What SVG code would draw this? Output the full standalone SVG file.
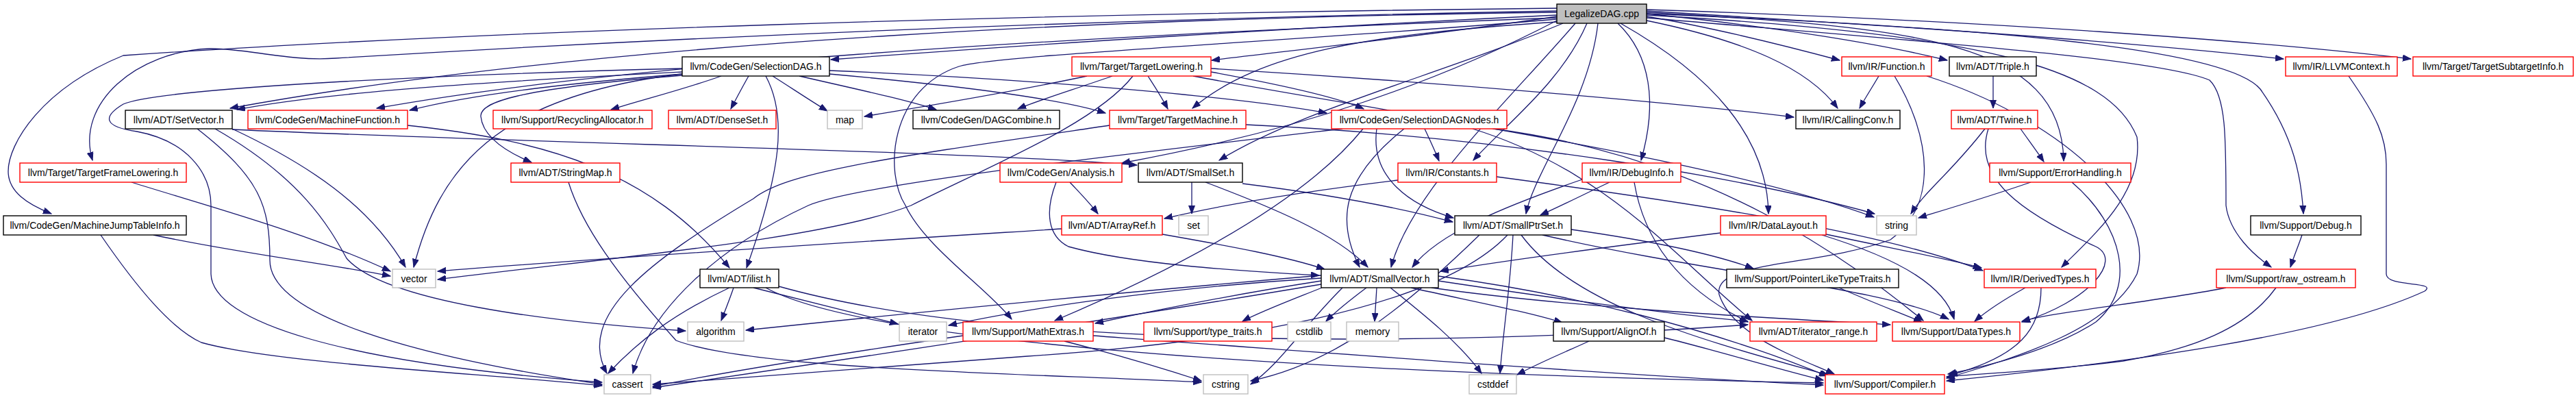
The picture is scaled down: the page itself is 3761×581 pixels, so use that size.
<svg xmlns="http://www.w3.org/2000/svg" width="3761" height="581" viewBox="0 0 3761 581">
<style>
rect{fill:#fff;stroke-width:1.4}
.k{stroke:#000}
.r{stroke:#ff0000}
.g{stroke:#bfbfbf}
.root{fill:#bfbfbf;stroke:#000}
text{font-family:"Liberation Sans",Arial,sans-serif;font-size:14px;text-anchor:middle;fill:#000}
#edges path{fill:none;stroke:#191970;stroke-width:1.3;marker-end:url(#a)}
</style>
<defs>
<marker id="a" markerUnits="userSpaceOnUse" markerWidth="13" markerHeight="10" refX="12" refY="4.5" orient="auto">
<path d="M0,0 L12,4.5 L0,9 z" fill="#191970" stroke="#191970"/>
</marker>
</defs>
<rect x="0" y="0" width="3761" height="581" style="fill:#fff;stroke:none"/>
<g id="edges">
<!-- LegalizeDAG.cpp -->
<path d="M2273,22 C1900,40 1500,65 1213,87"/>
<path d="M2273,18 C1700,25 900,55 336,158"/>
<path d="M2273,12 C1500,20 700,45 180,81 C60,130 12,210 12,250 C12,280 40,298 75,312"/>
<path d="M2273,16 C1500,30 900,60 490,85 C420,90 360,70 306,71 C200,75 110,150 135,234"/>
<path d="M2273,26 C1500,55 900,95 550,158"/>
<path d="M2333,34 C2320,150 2240,250 2228,312"/>
<path d="M2317,34 C2280,120 2200,180 2151,234"/>
<path d="M2362,34 C2410,80 2420,150 2396,234"/>
<path d="M2366,34 C2500,110 2580,200 2582,312"/>
<path d="M2282,34 C2100,110 1900,160 1780,234"/>
<path d="M2273,30 C2100,120 1900,190 1638,238"/>
<path d="M2300,34 C2200,150 2060,280 2031,390"/>
<path d="M2273,28 C1900,60 1450,80 1400,97 C1300,130 1290,250 1322,300 C1350,360 1440,420 1477,466"/>
<path d="M2273,24 C2100,50 1900,72 1769,88"/>
<path d="M2273,32 C2000,50 1840,75 1741,158"/>
<path d="M2404,24 C2500,40 2600,65 2686,88"/>
<path d="M2404,20 C2600,40 2750,65 2843,88"/>
<path d="M2404,30 C2550,60 2640,100 2683,158"/>
<path d="M2404,18 C2800,40 3010,60 3013,235"/>
<path d="M2404,16 C2800,40 3100,60 3334,86"/>
<path d="M2404,14 C2900,30 3300,60 3520,86"/>
<path d="M2404,20 C2900,40 3250,70 3300,130 C3350,200 3360,260 3363,312"/>
<path d="M2404,26 C2800,60 3150,85 3226,117 C3250,140 3250,200 3250,300 C3255,340 3290,372 3316,390"/>
<path d="M2404,22 C2900,50 3080,100 3120,200 C3130,280 3060,340 3010,390"/>
<!-- SelectionDAG.h -->
<path d="M996,105 C800,115 500,130 346,160"/>
<path d="M996,108 C850,120 700,135 598,161"/>
<path d="M996,100 C600,110 230,130 180,152 C150,170 150,185 200,192 C270,205 308,250 308,300 L308,400 C310,470 500,530 879,558"/>
<path d="M996,110 C750,130 700,150 702,170 C705,200 740,222 776,237"/>
<path d="M996,108 C720,140 640,250 604,390"/>
<path d="M1053,111 C1000,130 940,145 892,160"/>
<path d="M1093,111 C1085,125 1077,140 1067,159"/>
<path d="M1128,111 C1155,128 1180,145 1208,162"/>
<path d="M1118,111 C1150,170 1140,250 1090,391"/>
<path d="M1167,111 C1250,130 1320,145 1367,160"/>
<path d="M1211,103 C1500,115 1800,140 1937,165"/>
<path d="M1211,108 C1400,125 1550,145 1614,165"/>
<!-- TargetLowering.h -->
<path d="M1587,111 C1450,140 1320,160 1262,170"/>
<path d="M1624,111 C1570,130 1520,145 1486,159"/>
<path d="M1676,111 C1685,125 1695,140 1705,159"/>
<path d="M1654,111 C1600,180 1450,240 1330,300 C1200,350 900,375 639,408"/>
<path d="M1768,105 C1850,120 1950,140 1991,159"/>
<path d="M1768,100 C2100,120 2450,150 2619,171"/>
<path d="M1742,111 C2000,160 2500,230 2736,317"/>
<!-- SetVector.h -->
<path d="M288,188 C380,260 394,300 394,380 C394,460 600,520 879,561"/>
<path d="M314,188 C440,260 480,330 506,377 C560,440 800,470 1001,483"/>
<path d="M339,188 C450,240 540,300 592,390"/>
<path d="M339,189 C800,210 1400,220 1660,241"/>
<!-- MachineFunction.h -->
<path d="M595,183 C800,205 950,250 1065,391"/>
<!-- TargetFrameLowering / MJTI -->
<path d="M192,266 C300,300 450,340 570,396"/>
<path d="M224,343 C350,370 480,385 570,403"/>
<path d="M147,343 C200,420 250,480 294,500 C400,530 700,545 879,563"/>
<!-- StringMap.h -->
<path d="M830,266 C850,330 900,400 987,497 C1100,540 1500,545 1754,558"/>
<!-- ilist.h -->
<path d="M1065,420 C980,460 930,500 888,545"/>
<path d="M1071,420 C1066,435 1060,450 1053,468"/>
<path d="M1100,420 C1180,440 1260,460 1311,473"/>
<path d="M1137,418 C1500,520 2200,500 2552,474"/>
<path d="M1118,420 C1300,520 2200,550 2662,559"/>
<!-- Analysis.h -->
<path d="M1562,266 C1575,280 1590,295 1603,312"/>
<path d="M1542,266 C1525,310 1530,345 1560,360 C1650,385 1800,395 1926,402"/>
<!-- SmallSet.h -->
<path d="M1740,266 L1740,312"/>
<path d="M1760,266 C1850,300 1950,340 1997,390"/>
<path d="M1814,268 C1950,285 2050,305 2121,324"/>
<!-- ArrayRef.h -->
<path d="M1697,342 C1800,360 1880,375 1934,393"/>
<path d="M1550,334 C1300,350 900,375 639,396"/>
<!-- Constants.h -->
<path d="M2041,263 C1900,280 1780,300 1700,319"/>
<path d="M2185,258 C2500,300 2750,340 2895,395"/>
<!-- DebugInfo.h -->
<path d="M2350,266 C2310,285 2280,300 2249,314"/>
<path d="M2386,266 C2400,350 2450,420 2552,470"/>
<path d="M2310,262 C2200,300 2100,340 2062,390"/>
<!-- SelectionDAGNodes.h -->
<path d="M2080,188 C2088,205 2095,220 2101,235"/>
<path d="M2050,188 C1960,260 1950,320 1985,390"/>
<path d="M2010,188 C2000,260 2060,300 2122,318"/>
<path d="M2150,188 C2350,250 2450,380 2558,468"/>
<path d="M2180,188 C2500,230 2700,380 2808,468"/>
<path d="M1990,188 C1900,300 1700,400 1540,468"/>
<path d="M1960,188 C1600,230 1250,270 1180,300 C1050,360 950,450 924,545"/>
<!-- SmallPtrSet.h -->
<path d="M2209,343 C2205,420 2195,480 2190,545"/>
<path d="M2294,335 C2400,350 2500,370 2560,392"/>
<path d="M2252,343 C2500,400 2750,420 2845,466"/>
<path d="M2221,343 C2300,450 2500,500 2670,548"/>
<path d="M2201,343 C2100,450 1800,500 1500,520 C1300,535 1100,550 953,561"/>
<path d="M2160,343 C2050,450 1950,530 1826,556"/>
<!-- SmallVector.h -->
<path d="M1995,420 C1975,435 1955,450 1936,469"/>
<path d="M2010,420 L2007,469"/>
<path d="M2030,420 C2080,460 2130,500 2163,545"/>
<path d="M2060,420 C2150,440 2230,455 2281,471"/>
<path d="M1930,420 C1880,440 1840,455 1814,469"/>
<path d="M1929,410 C1800,430 1700,450 1599,472"/>
<path d="M1929,406 C1700,420 1500,450 1385,475"/>
<path d="M1929,402 C1600,430 1300,460 1089,482"/>
<path d="M1929,415 C1600,470 1200,530 953,566"/>
<path d="M2100,403 C2300,430 2500,480 2668,549"/>
<path d="M2100,410 C2300,440 2450,460 2552,469"/>
<path d="M2090,420 C2300,450 2600,465 2760,474"/>
<path d="M1960,420 C1900,480 1870,530 1826,561"/>
<!-- AlignOf / MathExtras -->
<path d="M2320,498 C2290,512 2250,528 2215,547"/>
<path d="M2430,493 C2500,510 2600,540 2662,555"/>
<path d="M1406,490 C1200,520 1050,545 953,564"/>
<path d="M1554,498 C1620,515 1690,535 1754,556"/>
<path d="M1596,490 C2000,520 2400,550 2662,562"/>
<!-- PointerLikeTypeTraits / DataLayout / DerivedTypes -->
<path d="M2685,420 C2730,440 2770,455 2806,470"/>
<path d="M2512,340 C2350,360 2200,380 2103,396"/>
<path d="M2666,342 C2750,360 2830,375 2893,391"/>
<path d="M2660,343 C2780,380 2840,420 2853,466"/>
<path d="M2957,420 C2930,435 2905,450 2883,469"/>
<path d="M2980,420 C2980,480 2950,520 2846,548"/>
<!-- Twine / Triple / ErrorHandling / Function -->
<path d="M2910,111 L2910,158"/>
<path d="M2950,188 C2962,205 2972,218 2984,236"/>
<path d="M2898,188 C2850,250 2810,280 2790,312"/>
<path d="M2903,188 C2880,260 2950,310 3060,360 C3100,380 3050,440 2952,470"/>
<path d="M2965,266 C2910,285 2860,300 2801,318"/>
<path d="M3025,266 C3100,330 3120,420 3060,470 C3000,510 2900,535 2844,546"/>
<path d="M2743,111 C2735,125 2725,140 2715,158"/>
<path d="M2766,111 C2820,200 2830,300 2760,350 C2650,390 2500,380 2510,430 C2530,490 2620,520 2678,546"/>
<path d="M2813,111 C3000,170 3150,300 3120,400 C3080,480 2950,520 2842,552"/>
<!-- LLVMContext / raw_ostream / Debug -->
<path d="M3429,111 C3470,170 3484,200 3484,240 L3484,400 C3484,420 3560,410 3540,425 C3400,490 3100,530 2842,556"/>
<path d="M3323,420 C3280,480 3200,510 3100,527 C3000,540 2900,545 2842,550"/>
<path d="M3250,420 C3150,440 3000,455 2952,469"/>
<path d="M3361,343 C3356,358 3350,372 3344,390"/>
<!-- TargetMachine.h -->
<path d="M1620,183 C1300,230 1150,250 1100,290 C950,380 840,460 886,545"/>
<path d="M1819,182 C2200,200 2550,260 2737,312"/>
</g>
<g id="n0"><rect class="root" x="2273" y="6" width="131" height="28"/><text x="2338.5" y="25">LegalizeDAG.cpp</text></g>
<g id="n1"><rect class="k" x="996" y="83" width="215" height="28"/><text x="1103.5" y="102">llvm/CodeGen/SelectionDAG.h</text></g>
<g id="n2"><rect class="r" x="1565" y="83" width="203" height="28"/><text x="1666.5" y="102">llvm/Target/TargetLowering.h</text></g>
<g id="n3"><rect class="r" x="2689" y="83" width="131" height="28"/><text x="2754.5" y="102">llvm/IR/Function.h</text></g>
<g id="n4"><rect class="k" x="2846" y="83" width="127" height="28"/><text x="2909.5" y="102">llvm/ADT/Triple.h</text></g>
<g id="n5"><rect class="r" x="3337" y="83" width="163" height="28"/><text x="3418.5" y="102">llvm/IR/LLVMContext.h</text></g>
<g id="n6"><rect class="r" x="3523" y="83" width="234" height="28"/><text x="3640" y="102">llvm/Target/TargetSubtargetInfo.h</text></g>
<g id="n7"><rect class="k" x="183" y="161" width="156" height="27"/><text x="261" y="179.5">llvm/ADT/SetVector.h</text></g>
<g id="n8"><rect class="r" x="362" y="161" width="233" height="27"/><text x="478.5" y="179.5">llvm/CodeGen/MachineFunction.h</text></g>
<g id="n9"><rect class="r" x="720" y="161" width="232" height="27"/><text x="836" y="179.5">llvm/Support/RecyclingAllocator.h</text></g>
<g id="n10"><rect class="r" x="976" y="161" width="157" height="27"/><text x="1054.5" y="179.5">llvm/ADT/DenseSet.h</text></g>
<g id="n11"><rect class="g" x="1208" y="161" width="51" height="27"/><text x="1233.5" y="179.5">map</text></g>
<g id="n12"><rect class="k" x="1333" y="161" width="214" height="27"/><text x="1440" y="179.5">llvm/CodeGen/DAGCombine.h</text></g>
<g id="n13"><rect class="r" x="1620" y="161" width="199" height="27"/><text x="1719.5" y="179.5">llvm/Target/TargetMachine.h</text></g>
<g id="n14"><rect class="r" x="1944" y="161" width="256" height="27"/><text x="2072" y="179.5">llvm/CodeGen/SelectionDAGNodes.h</text></g>
<g id="n15"><rect class="k" x="2622" y="161" width="152" height="27"/><text x="2698" y="179.5">llvm/IR/CallingConv.h</text></g>
<g id="n16"><rect class="r" x="2849" y="161" width="126" height="27"/><text x="2912" y="179.5">llvm/ADT/Twine.h</text></g>
<g id="n17"><rect class="r" x="29" y="238" width="243" height="28"/><text x="150.5" y="257">llvm/Target/TargetFrameLowering.h</text></g>
<g id="n18"><rect class="r" x="746" y="238" width="159" height="28"/><text x="825.5" y="257">llvm/ADT/StringMap.h</text></g>
<g id="n19"><rect class="r" x="1460" y="238" width="178" height="28"/><text x="1549" y="257">llvm/CodeGen/Analysis.h</text></g>
<g id="n20"><rect class="k" x="1662" y="238" width="152" height="28"/><text x="1738" y="257">llvm/ADT/SmallSet.h</text></g>
<g id="n21"><rect class="r" x="2041" y="238" width="144" height="28"/><text x="2113" y="257">llvm/IR/Constants.h</text></g>
<g id="n22"><rect class="r" x="2310" y="238" width="144" height="28"/><text x="2382" y="257">llvm/IR/DebugInfo.h</text></g>
<g id="n23"><rect class="r" x="2905" y="238" width="206" height="28"/><text x="3008" y="257">llvm/Support/ErrorHandling.h</text></g>
<g id="n24"><rect class="k" x="5" y="315" width="267" height="28"/><text x="138.5" y="334">llvm/CodeGen/MachineJumpTableInfo.h</text></g>
<g id="n25"><rect class="r" x="1550" y="315" width="147" height="28"/><text x="1623.5" y="334">llvm/ADT/ArrayRef.h</text></g>
<g id="n26"><rect class="g" x="1721" y="315" width="43" height="28"/><text x="1742.5" y="334">set</text></g>
<g id="n27"><rect class="k" x="2124" y="315" width="170" height="28"/><text x="2209" y="334">llvm/ADT/SmallPtrSet.h</text></g>
<g id="n28"><rect class="r" x="2512" y="315" width="154" height="28"/><text x="2589" y="334">llvm/IR/DataLayout.h</text></g>
<g id="n29"><rect class="g" x="2740" y="315" width="58" height="28"/><text x="2769" y="334">string</text></g>
<g id="n30"><rect class="k" x="3286" y="315" width="161" height="28"/><text x="3366.5" y="334">llvm/Support/Debug.h</text></g>
<g id="n31"><rect class="g" x="573" y="393" width="63" height="27"/><text x="604.5" y="411.5">vector</text></g>
<g id="n32"><rect class="k" x="1022" y="393" width="115" height="27"/><text x="1079.5" y="411.5">llvm/ADT/ilist.h</text></g>
<g id="n33"><rect class="k" x="1929" y="393" width="171" height="27"/><text x="2014.5" y="411.5">llvm/ADT/SmallVector.h</text></g>
<g id="n34"><rect class="k" x="2521" y="393" width="251" height="27"/><text x="2646.5" y="411.5">llvm/Support/PointerLikeTypeTraits.h</text></g>
<g id="n35"><rect class="r" x="2897" y="393" width="163" height="27"/><text x="2978.5" y="411.5">llvm/IR/DerivedTypes.h</text></g>
<g id="n36"><rect class="r" x="3236" y="393" width="203" height="27"/><text x="3337.5" y="411.5">llvm/Support/raw_ostream.h</text></g>
<g id="n37"><rect class="g" x="1004" y="470" width="82" height="28"/><text x="1045" y="489">algorithm</text></g>
<g id="n38"><rect class="g" x="1313" y="470" width="69" height="28"/><text x="1347.5" y="489">iterator</text></g>
<g id="n39"><rect class="r" x="1406" y="470" width="190" height="28"/><text x="1501" y="489">llvm/Support/MathExtras.h</text></g>
<g id="n40"><rect class="r" x="1670" y="470" width="187" height="28"/><text x="1763.5" y="489">llvm/Support/type_traits.h</text></g>
<g id="n41"><rect class="g" x="1880" y="470" width="63" height="28"/><text x="1911.5" y="489">cstdlib</text></g>
<g id="n42"><rect class="g" x="1966" y="470" width="76" height="28"/><text x="2004" y="489">memory</text></g>
<g id="n43"><rect class="k" x="2268" y="470" width="162" height="28"/><text x="2349" y="489">llvm/Support/AlignOf.h</text></g>
<g id="n44"><rect class="r" x="2555" y="470" width="185" height="28"/><text x="2647.5" y="489">llvm/ADT/iterator_range.h</text></g>
<g id="n45"><rect class="r" x="2763" y="470" width="186" height="28"/><text x="2856" y="489">llvm/Support/DataTypes.h</text></g>
<g id="n46"><rect class="g" x="882" y="547" width="68" height="28"/><text x="916" y="566">cassert</text></g>
<g id="n47"><rect class="g" x="1757" y="547" width="65" height="28"/><text x="1789.5" y="566">cstring</text></g>
<g id="n48"><rect class="g" x="2145" y="547" width="69" height="28"/><text x="2179.5" y="566">cstddef</text></g>
<g id="n49"><rect class="r" x="2665" y="547" width="174" height="28"/><text x="2752" y="566">llvm/Support/Compiler.h</text></g>
</svg>
